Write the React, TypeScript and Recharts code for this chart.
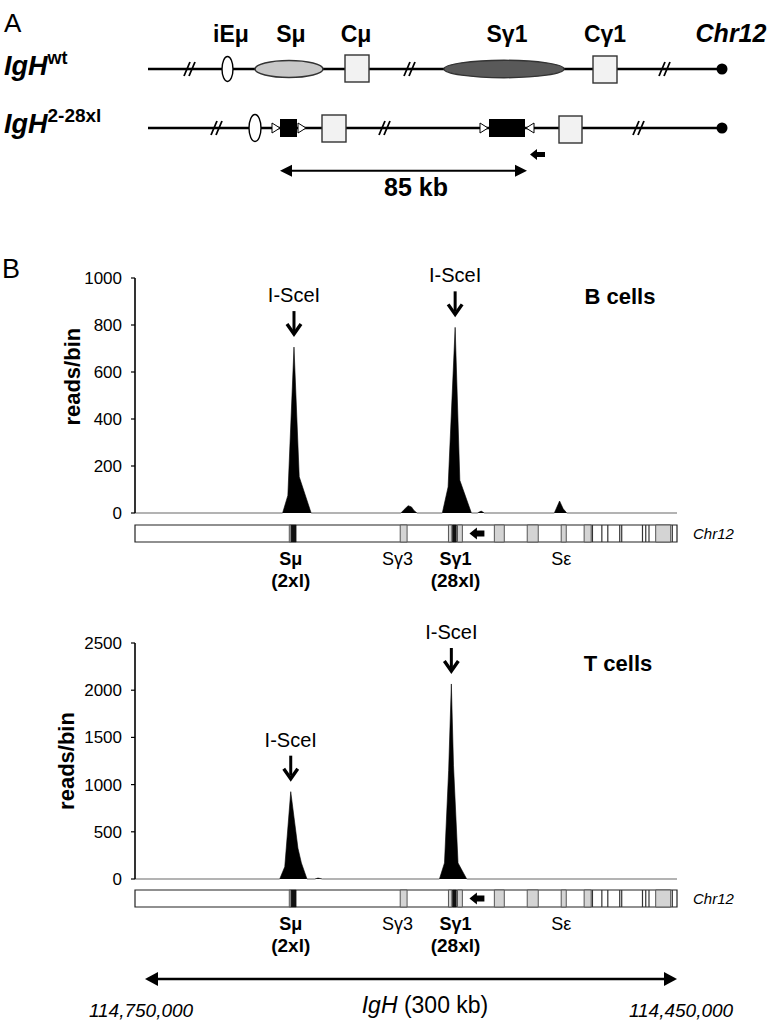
import React from 'react';
import {
  AreaChart,
  Area,
  XAxis,
  YAxis,
  ReferenceDot,
  ReferenceArea,
  ReferenceLine,
  LineChart,
  Line,
} from 'recharts';

const FONT = '"Liberation Sans", Arial, Helvetica, sans-serif';

// ---------------- Panel B: B cells (position along IgH in kb, reads/bin) ----------------
const bCellPositionKb = [0, 81.7, 84.6, 88.0, 90.9, 97.5, 147.2, 149.0, 151.2, 153.0, 154.5, 156.1, 170.1, 173.3, 177.2, 179.8, 186.2, 189.5, 191.6, 193.4, 232.1, 235.0, 237.0, 239.0, 300];
const bCellReads = [0, 0, 75, 706, 154, 0, 0, 15, 31, 26, 10, 0, 0, 111, 790, 139, 0, 0, 8, 0, 0, 51, 18, 0, 0];
const bCellSceIKb = [88.0, 177.2];
const bCellTicks = [0, 200, 400, 600, 800, 1000];

// ---------------- Panel B: T cells ----------------
const tCellPositionKb = [0, 80.1, 82.9, 86.2, 90.2, 92.1, 95.2, 99.5, 101.3, 103.7, 168.5, 171.3, 173.6, 175.1, 176.3, 178.8, 183.6, 300];
const tCellReads = [0, 0, 130, 925, 325, 170, 0, 0, 10, 0, 0, 170, 1150, 2066, 1200, 170, 0, 0];
const tCellSceIKb = [86.2, 175.1];
const tCellTicks = [0, 500, 1000, 1500, 2000, 2500];

// ---------------- IgH locus track (kb) ----------------
const greySegmentsKb: [number, number][] = [
  [85.4, 86.4], [146.8, 150.6], [173.5, 175.4], [178.5, 181.2], [198.9, 204.4],
  [217.1, 223.2], [235.9, 238.7], [248.6, 252.5], [288.2, 296.5],
];
const blackSegmentsKb: [number, number][] = [[86.4, 89.2], [175.7, 177.9]];
const boundaryLinesKb = [253.2, 258.4, 261.7, 268.3, 269.4, 280.9, 282.7, 284.5, 297.4];
const promoterArrowKb: [number, number] = [185.1, 193.4];

const regionNames = ['Sμ', 'Sγ3', 'Sγ1', 'Sε'];
const regionSublabels = ['(2xl)', '', '(28xl)', ''];
const regionLabelKb = [86.2, 145.3, 177.4, 235.9];
const regionBold = [true, false, true, false];

const locusDomain: [number, number] = [0, 300];

const bCellData = bCellPositionKb.map((p, i) => ({ pos: p, reads: bCellReads[i] }));
const tCellData = tCellPositionKb.map((p, i) => ({ pos: p, reads: tCellReads[i] }));
const trackFrame = [{ pos: locusDomain[0], v: 0 }, { pos: locusDomain[1], v: 1 }];

const readsAt = (data: { pos: number; reads: number }[], p: number) =>
  (data.find((d) => d.pos === p) || { reads: 0 }).reads;

// ---------------- shapes ----------------
const SceMarker = (props: any) => {
  const { cx, cy } = props;
  if (cx == null || cy == null) return <g />;
  const tip = cy - 13;
  const top = tip - 23;
  return (
    <g>
      <text x={cx} y={top - 9} textAnchor="middle" fontSize={20} fontFamily={FONT} fill="#000">
        I-SceI
      </text>
      <line x1={cx} y1={top} x2={cx} y2={tip - 3} stroke="#000" strokeWidth={3} />
      <polyline
        points={`${cx - 7},${tip - 10} ${cx},${tip} ${cx + 7},${tip - 10}`}
        fill="none"
        stroke="#000"
        strokeWidth={3.4}
      />
    </g>
  );
};

const PromoterArrow = (props: any) => {
  const { x, y, width, height } = props;
  if (x == null) return <g />;
  const head = width * 0.5;
  const yMid = y + height / 2;
  const bodyHalf = height * 0.26;
  const pts = [
    [x, yMid],
    [x + head, y],
    [x + head, yMid - bodyHalf],
    [x + width, yMid - bodyHalf],
    [x + width, yMid + bodyHalf],
    [x + head, yMid + bodyHalf],
    [x + head, y + height],
  ]
    .map((q) => q.join(','))
    .join(' ');
  return <polygon points={pts} fill="#000" />;
};

const RegionLabel = (props: any) => {
  const { cx, cy, name, sub, bold } = props;
  if (cx == null) return <g />;
  return (
    <g>
      <text
        x={cx}
        y={cy + 23}
        textAnchor="middle"
        fontSize={18}
        fontWeight={bold ? 'bold' : 'normal'}
        fontFamily={FONT}
        fill="#000"
      >
        {name}
      </text>
      {sub ? (
        <text x={cx} y={cy + 45} textAnchor="middle" fontSize={19} fontWeight="bold" fontFamily={FONT} fill="#000">
          {sub}
        </text>
      ) : null}
    </g>
  );
};

const ChrLabel = (props: any) => {
  const { cx, cy } = props;
  if (cx == null) return <g />;
  return (
    <text x={cx + 16} y={cy + 5} fontSize={15} fontStyle="italic" fontFamily={FONT} fill="#000">
      Chr12
    </text>
  );
};

const axisTitle = (dx: number, frac: number) => (p: any) => {
  const vb = p.viewBox || {};
  const cx = vb.x + dx;
  const cy = vb.y + vb.height * frac;
  return (
    <text
      x={cx}
      y={cy}
      transform={`rotate(-90 ${cx} ${cy})`}
      textAnchor="middle"
      dominantBaseline="central"
      fontSize={22}
      fontWeight="bold"
      fontFamily={FONT}
      fill="#000"
    >
      reads/bin
    </text>
  );
};

// ---------------- charts ----------------
function CoverageChart(props: {
  top: number;
  data: { pos: number; reads: number }[];
  maxY: number;
  ticks: number[];
  sites: number[];
  titleDx: number;
  titleFrac: number;
  marginTop: number;
  height: number;
  marginBottom: number;
}) {
  const { top, data, maxY, ticks, sites, titleDx, titleFrac, marginTop, height, marginBottom } = props;
  return (
    <div style={{ position: 'absolute', left: 0, top }}>
      <AreaChart
        width={783}
        height={height}
        data={data}
        margin={{ top: marginTop, right: 106, bottom: marginBottom, left: 75 }}
      >
        <XAxis
          dataKey="pos"
          type="number"
          domain={locusDomain}
          tick={false}
          tickLine={false}
          axisLine={{ stroke: '#000', strokeWidth: 1.6 }}
          height={0}
        />
        <YAxis
          type="number"
          domain={[0, maxY]}
          ticks={ticks}
          interval={0}
          width={60}
          tickSize={4}
          tickMargin={9}
          tick={{ fontSize: 17, fill: '#000', fontFamily: FONT }}
          axisLine={{ stroke: '#000', strokeWidth: 1.6 }}
          tickLine={{ stroke: '#000', strokeWidth: 1.2 }}
          label={{ content: axisTitle(titleDx, titleFrac) }}
        />
        <Area
          type="linear"
          dataKey="reads"
          stroke="#000"
          strokeWidth={0.6}
          fill="#000"
          fillOpacity={1}
          dot={false}
          activeDot={false}
          isAnimationActive={false}
        />
        {sites.map((s) => (
          <ReferenceDot key={s} x={s} y={readsAt(data, s)} shape={SceMarker} ifOverflow="visible" />
        ))}
      </AreaChart>
    </div>
  );
}

function TrackChart({ top }: { top: number }) {
  return (
    <div style={{ position: 'absolute', left: 0, top }}>
      <LineChart width={783} height={85} data={trackFrame} margin={{ top: 10, right: 106, bottom: 58, left: 135 }}>
        <XAxis dataKey="pos" type="number" domain={locusDomain} hide />
        <YAxis type="number" domain={[0, 1]} hide />
        <Line dataKey="v" stroke="none" dot={false} activeDot={false} isAnimationActive={false} />
        <ReferenceArea
          x1={locusDomain[0]}
          x2={locusDomain[1]}
          y1={0}
          y2={1}
          fill="#fff"
          fillOpacity={1}
          stroke="#222"
          strokeWidth={1.2}
          ifOverflow="visible"
        />
        {greySegmentsKb.map(([a, b], i) => (
          <ReferenceArea
            key={'g' + i}
            x1={a}
            x2={b}
            y1={0}
            y2={1}
            fill="#d4d4d4"
            fillOpacity={1}
            stroke="#555"
            strokeWidth={1}
            ifOverflow="visible"
          />
        ))}
        {blackSegmentsKb.map(([a, b], i) => (
          <ReferenceArea
            key={'k' + i}
            x1={a}
            x2={b}
            y1={0}
            y2={1}
            fill="#111"
            fillOpacity={1}
            stroke="#111"
            strokeWidth={0.5}
            ifOverflow="visible"
          />
        ))}
        {boundaryLinesKb.map((x, i) => (
          <ReferenceLine key={'l' + i} x={x} stroke="#333" strokeWidth={1.2} ifOverflow="visible" />
        ))}
        <ReferenceArea
          x1={promoterArrowKb[0]}
          x2={promoterArrowKb[1]}
          y1={0.15}
          y2={0.85}
          shape={PromoterArrow}
          ifOverflow="visible"
        />
        {regionNames.map((n, i) => (
          <ReferenceDot
            key={'r' + i}
            x={regionLabelKb[i]}
            y={0}
            ifOverflow="visible"
            shape={(p: any) => (
              <RegionLabel {...p} name={n} sub={regionSublabels[i]} bold={regionBold[i]} />
            )}
          />
        ))}
        <ReferenceDot x={locusDomain[1]} y={0.5} ifOverflow="visible" shape={ChrLabel} />
      </LineChart>
    </div>
  );
}

// ---------------- schematic helpers ----------------
function DoubleArrow({ x1, x2, y, head = 12, half = 6, sw = 2 }: any) {
  return (
    <g>
      <line x1={x1 + head - 2} y1={y} x2={x2 - head + 2} y2={y} stroke="#000" strokeWidth={sw} />
      <polygon points={`${x1},${y} ${x1 + head},${y - half} ${x1 + head},${y + half}`} fill="#000" />
      <polygon points={`${x2},${y} ${x2 - head},${y - half} ${x2 - head},${y + half}`} fill="#000" />
    </g>
  );
}

function Break({ x, y }: any) {
  return (
    <g stroke="#000" strokeWidth={1.8}>
      <line x1={x - 6} y1={y + 7} x2={x} y2={y - 7} />
      <line x1={x - 1} y1={y + 7} x2={x + 5} y2={y - 7} />
    </g>
  );
}

function Tri({ x, y, dir }: any) {
  const pts =
    dir > 0
      ? `${x},${y - 5} ${x + 8},${y} ${x},${y + 5}`
      : `${x + 8},${y - 5} ${x},${y} ${x + 8},${y + 5}`;
  return <polygon points={pts} fill="#fff" stroke="#000" strokeWidth={1} />;
}

function Schematic() {
  const y1 = 69;
  const y2 = 128;
  const lbl = { fontSize: 23, fontWeight: 'bold' as const, fontFamily: FONT, textAnchor: 'middle' as const };
  return (
    <g fontFamily={FONT}>
      <text x={4} y={32} fontSize={26}>A</text>
      <text x={231} y={42} {...lbl}>iEμ</text>
      <text x={291} y={42} {...lbl}>Sμ</text>
      <text x={356} y={42} {...lbl}>Cμ</text>
      <text x={507} y={42} {...lbl}>Sγ1</text>
      <text x={605} y={42} {...lbl}>Cγ1</text>
      <text x={731} y={42} {...lbl} fontStyle="italic" fontSize={25}>Chr12</text>

      <text x={4} y={75} fontSize={27} fontWeight="bold" fontStyle="italic">
        IgH<tspan fontSize={18} fontStyle="normal" dy={-11}>wt</tspan>
      </text>
      <text x={4} y={133} fontSize={27} fontWeight="bold" fontStyle="italic">
        IgH<tspan fontSize={19} fontStyle="normal" dy={-11}>2-28xl</tspan>
      </text>

      {/* wild-type locus */}
      <line x1={148} y1={y1} x2={722} y2={y1} stroke="#000" strokeWidth={2.5} />
      <Break x={190} y={y1} />
      <Break x={410} y={y1} />
      <Break x={665} y={y1} />
      <ellipse cx={227.5} cy={y1} rx={5.5} ry={12.5} fill="#fff" stroke="#000" strokeWidth={1.4} />
      <ellipse cx={289} cy={y1} rx={34} ry={8.5} fill="#c8c8c8" stroke="#333" strokeWidth={1.4} />
      <rect x={345} y={55} width={24} height={27} fill="#f2f2f2" stroke="#333" strokeWidth={1.4} />
      <ellipse cx={504} cy={y1} rx={60} ry={8.7} fill="#595959" stroke="#333" strokeWidth={1.4} />
      <rect x={593} y={56} width={24} height={27} fill="#f2f2f2" stroke="#333" strokeWidth={1.4} />
      <circle cx={722} cy={y1} r={5.5} fill="#000" />

      {/* 2-28xl locus */}
      <line x1={148} y1={y2} x2={722} y2={y2} stroke="#000" strokeWidth={2.5} />
      <Break x={217} y={y2} />
      <Break x={385} y={y2} />
      <Break x={639} y={y2} />
      <ellipse cx={255} cy={y2} rx={6} ry={13.5} fill="#fff" stroke="#000" strokeWidth={1.4} />
      <Tri x={272} y={y2} dir={1} />
      <rect x={280} y={119} width={17} height={18} fill="#000" />
      <Tri x={298} y={y2} dir={1} />
      <rect x={322} y={115} width={24} height={27} fill="#f2f2f2" stroke="#333" strokeWidth={1.4} />
      <Tri x={480} y={y2} dir={1} />
      <rect x={489} y={119} width={36} height={18} fill="#000" />
      <Tri x={526} y={y2} dir={-1} />
      <rect x={559} y={116} width={23} height={27} fill="#f2f2f2" stroke="#333" strokeWidth={1.4} />
      <circle cx={722} cy={y2} r={5.5} fill="#000" />
      <polygon points="530,154.5 537,149 537,152 545,152 545,157 537,157 537,160" fill="#000" />
      <DoubleArrow x1={280} x2={527} y={170.7} head={12} half={6} sw={2} />
      <text x={416} y={196} fontSize={25} fontWeight="bold" textAnchor="middle">85 kb</text>
    </g>
  );
}

export default function App() {
  return (
    <div
      style={{
        position: 'absolute',
        left: 0,
        top: 0,
        width: 783,
        height: 1024,
        background: '#fff',
        fontFamily: FONT,
      }}
    >
      <svg width={783} height={1024} style={{ position: 'absolute', left: 0, top: 0 }}>
        <Schematic />
        <text x={2} y={278} fontSize={27} fontFamily={FONT}>B</text>
        <text x={620} y={304} fontSize={22} fontWeight="bold" textAnchor="middle" fontFamily={FONT}>B cells</text>
        <text x={618} y={671} fontSize={22} fontWeight="bold" textAnchor="middle" fontFamily={FONT}>T cells</text>
        <DoubleArrow x1={145} x2={677} y={979} head={13} half={7} sw={2.5} />
        <text x={425} y={1013} fontSize={23} textAnchor="middle" fontFamily={FONT}>
          <tspan fontStyle="italic">IgH</tspan> (300 kb)
        </text>
        <text x={141} y={1017} fontSize={19} fontStyle="italic" textAnchor="middle" fontFamily={FONT}>114,750,000</text>
        <text x={681} y={1017} fontSize={19} fontStyle="italic" textAnchor="middle" fontFamily={FONT}>114,450,000</text>
      </svg>

      <CoverageChart
        top={240}
        data={bCellData}
        maxY={1000}
        ticks={bCellTicks}
        sites={bCellSceIKb}
        titleDx={-2}
        titleFrac={0.42}
        marginTop={38}
        height={290}
        marginBottom={17}
      />
      <TrackChart top={515} />

      <CoverageChart
        top={600}
        data={tCellData}
        maxY={2500}
        ticks={tCellTicks}
        sites={tCellSceIKb}
        titleDx={-9}
        titleFrac={0.5}
        marginTop={43}
        height={300}
        marginBottom={21}
      />
      <TrackChart top={880} />
    </div>
  );
}
